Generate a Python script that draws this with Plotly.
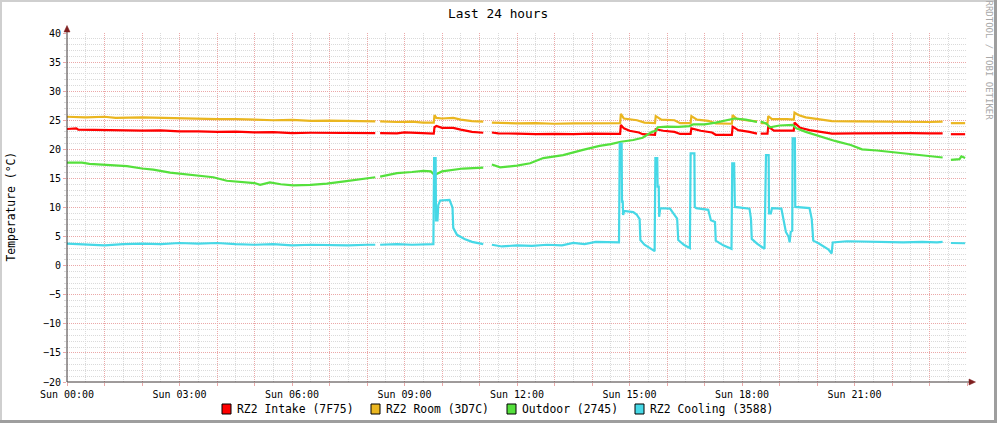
import plotly.graph_objects as go

# ---------------- data (hour of day, °C); None = gap in data ----------------
intake = [(0.0, 23.5), (0.25, 23.6), (0.3, 23.4), (0.9, 23.3), (1.5, 23.3), (2.0, 23.2), (2.5, 23.25),
          (3.0, 23.1), (3.5, 23.1), (4.0, 23.0), (4.5, 23.05), (5.0, 22.9), (5.5, 22.95), (6.0, 22.8),
          (6.5, 22.85), (7.0, 22.8), (7.5, 22.85), (8.0, 22.8), (8.22, 22.8), (8.28, None), (8.35, 22.8),
          (8.8, 22.75), (9.0, 22.9), (9.3, 22.8), (9.78, 22.7), (9.8, 23.8), (9.85, 24.0), (10.0, 23.7),
          (10.3, 23.7), (10.5, 23.4), (10.8, 23.0), (11.1, 22.85), (11.2, None), (11.33, 22.9), (11.5, 22.75),
          (12.0, 22.7), (12.5, 22.6), (13.0, 22.65), (13.5, 22.6), (14.0, 22.7), (14.5, 22.75), (14.75, 22.65),
          (14.77, 24.2), (14.85, 23.6), (15.0, 23.2), (15.25, 22.9), (15.35, 22.6), (15.68, 22.5), (15.7, 23.45),
          (15.9, 23.2), (16.2, 23.0), (16.35, 22.65), (16.63, 22.65), (16.65, 23.6), (16.9, 23.2), (17.2, 22.9),
          (17.3, 22.5), (17.73, 22.5), (17.75, 23.9), (17.9, 23.3), (18.2, 23.0), (18.4, 22.7), (18.45, None),
          (18.5, 22.7), (18.68, 22.7), (18.7, 23.9), (18.85, 23.2), (19.2, 23.2), (19.38, 23.2), (19.4, 24.6),
          (19.55, 23.7), (19.8, 23.3), (20.0, 23.1), (20.4, 22.7), (21.0, 22.75), (21.5, 22.8), (22.0, 22.75),
          (22.5, 22.8), (23.0, 22.75), (23.35, 22.75), (23.45, None), (23.57, 22.6), (23.95, 22.6)]

room = [(0.0, 25.6), (0.5, 25.5), (1.0, 25.6), (1.3, 25.4), (2.0, 25.5), (2.5, 25.4), (3.0, 25.3), (3.5, 25.3),
        (4.0, 25.2), (4.5, 25.2), (5.0, 25.1), (5.5, 25.0), (6.0, 25.05), (6.5, 24.9), (7.0, 24.95), (7.5, 24.9),
        (8.0, 24.85), (8.22, 24.8), (8.28, None), (8.35, 24.8), (8.8, 24.7), (9.2, 24.75), (9.5, 24.6),
        (9.78, 24.6), (9.8, 25.9), (9.85, 25.4), (10.0, 25.3), (10.3, 25.4), (10.5, 25.1), (10.8, 24.85),
        (11.1, 24.75), (11.2, None), (11.33, 24.6), (11.6, 24.55), (12.0, 24.45), (12.5, 24.5), (13.0, 24.4),
        (13.5, 24.45), (14.0, 24.5), (14.5, 24.5), (14.75, 24.5), (14.77, 26.1), (14.85, 25.3), (15.2, 25.0),
        (15.4, 24.6), (15.68, 24.5), (15.7, 25.7), (15.85, 25.1), (16.2, 25.0), (16.35, 24.5), (16.63, 24.5),
        (16.65, 25.7), (16.8, 25.1), (17.1, 24.9), (17.3, 24.45), (17.73, 24.4), (17.75, 25.9), (17.85, 25.3),
        (18.1, 25.0), (18.4, 24.8), (18.45, None), (18.5, 24.5), (18.68, 24.5), (18.7, 25.7), (18.8, 25.2),
        (19.2, 25.2), (19.38, 25.1), (19.4, 26.3), (19.5, 25.9), (19.7, 25.5), (20.0, 25.2), (20.4, 24.85),
        (21.0, 24.8), (21.5, 24.75), (22.0, 24.8), (22.5, 24.75), (23.0, 24.7), (23.35, 24.75), (23.45, None),
        (23.57, 24.5), (23.95, 24.5)]

outdoor = [(0.0, 17.7), (0.4, 17.7), (0.6, 17.5), (1.0, 17.35), (1.4, 17.3), (1.6, 17.1), (2.0, 16.7),
           (2.3, 16.5), (2.75, 16.0), (3.2, 15.7), (3.63, 15.3), (3.9, 15.2), (4.26, 14.6), (4.6, 14.4),
           (5.0, 14.2), (5.15, 13.9), (5.41, 14.3), (5.7, 14.0), (6.03, 13.8), (6.5, 13.9), (6.93, 14.1),
           (7.4, 14.5), (7.9, 14.9), (8.22, 15.2), (8.28, None), (8.35, 15.3), (8.8, 15.9), (9.2, 16.1),
           (9.5, 16.3), (9.7, 16.2), (9.8, 15.6), (10.0, 16.2), (10.56, 16.7), (11.1, 16.85), (11.2, None),
           (11.33, 17.4), (11.55, 16.9), (12.0, 17.2), (12.35, 17.6), (12.7, 18.5), (13.23, 19.0), (13.76, 19.9),
           (14.2, 20.6), (14.5, 20.9), (14.77, 21.3), (15.1, 21.6), (15.35, 22.0), (15.6, 23.0), (15.7, 23.2),
           (15.75, 23.8), (16.0, 23.9), (16.3, 23.85), (16.6, 24.0), (16.7, 24.3), (17.0, 24.3), (17.3, 24.6),
           (17.6, 25.0), (17.8, 25.3), (18.1, 25.1), (18.4, 24.7), (18.45, None), (18.5, 24.8), (18.65, 24.4),
           (18.75, 23.8), (19.0, 24.1), (19.35, 24.2), (19.45, 23.6), (19.7, 23.0), (20.0, 22.4), (20.5, 21.4),
           (20.9, 20.75), (21.2, 20.0), (21.6, 19.8), (22.0, 19.5), (22.5, 19.2), (23.0, 18.8), (23.35, 18.6),
           (23.45, None), (23.57, 18.2), (23.8, 18.3), (23.85, 18.8), (23.95, 18.5)]

cooling = [(0.0, 3.8), (0.5, 3.6), (1.0, 3.5), (1.5, 3.7), (2.0, 3.8), (2.5, 3.7), (3.0, 3.9), (3.5, 3.8),
           (4.0, 3.9), (4.5, 3.7), (5.0, 3.6), (5.5, 3.7), (6.0, 3.5), (6.5, 3.6), (7.0, 3.5), (7.5, 3.5),
           (8.0, 3.6), (8.22, 3.6), (8.28, None), (8.35, 3.6), (8.8, 3.7), (9.2, 3.6), (9.77, 3.7),
           (9.79, 18.5), (9.83, 18.5), (9.84, 7.8), (9.88, 7.8), (9.9, 10.4), (9.95, 11.2), (10.2, 11.3),
           (10.28, 10.0), (10.3, 6.5), (10.4, 5.3), (10.6, 4.6), (10.8, 4.1), (11.1, 3.7), (11.2, None),
           (11.33, 3.6), (11.6, 3.3), (12.0, 3.5), (12.4, 3.4), (12.8, 3.6), (13.2, 3.5), (13.5, 3.9),
           (13.8, 3.7), (14.1, 4.1), (14.5, 4.0), (14.72, 4.0), (14.74, 21.0), (14.79, 21.0), (14.8, 11.0),
           (14.82, 11.0), (14.83, 8.7), (14.86, 9.4), (15.1, 9.2), (15.19, 8.8), (15.27, 8.0), (15.29, 4.4),
           (15.4, 3.6), (15.55, 3.0), (15.67, 2.5), (15.69, 18.5), (15.74, 18.5), (15.75, 13.6), (15.78, 13.6),
           (15.79, 8.4), (15.82, 9.9), (16.08, 9.8), (16.2, 8.8), (16.27, 8.1), (16.3, 4.4), (16.45, 3.6),
           (16.61, 3.0), (16.63, 19.3), (16.73, 19.3), (16.74, 10.1), (16.78, 9.9), (17.1, 9.6), (17.17, 7.8),
           (17.28, 7.5), (17.3, 4.3), (17.5, 3.5), (17.72, 2.9), (17.74, 17.6), (17.79, 17.6), (17.81, 10.1),
           (18.2, 9.8), (18.24, 8.0), (18.26, 4.6), (18.4, 3.8), (18.6, 2.9), (18.64, 19.0), (18.71, 19.0),
           (18.72, 9.0), (18.77, 9.0), (18.8, 9.9), (19.05, 9.8), (19.12, 7.5), (19.17, 5.8), (19.24, 5.0),
           (19.27, 4.0), (19.3, 5.8), (19.34, 6.0), (19.35, 21.9), (19.41, 21.9), (19.42, 10.1), (19.8, 9.9),
           (19.86, 8.0), (19.9, 4.3), (20.05, 3.8), (20.2, 3.2), (20.3, 2.8), (20.39, 2.1), (20.42, 4.0),
           (20.8, 4.2), (21.3, 4.1), (21.8, 4.1), (22.3, 4.0), (22.8, 4.1), (23.2, 4.0), (23.35, 4.1),
           (23.45, None), (23.57, 3.9), (23.95, 3.85)]

series_names = ["RZ2 Intake (7F75)", "RZ2 Room (3D7C)", "Outdoor (2745)", "RZ2 Cooling (3588)"]
series_colors = ["#FF0000", "#EAB620", "#55E03C", "#46D8E6"]
series_data = [intake, room, outdoor, cooling]

x_tick_hours = list(range(0, 25))
x_tick_labels = {0: "Sun 00:00", 3: "Sun 03:00", 6: "Sun 06:00", 9: "Sun 09:00",
                 12: "Sun 12:00", 15: "Sun 15:00", 18: "Sun 18:00", 21: "Sun 21:00"}

# ---------------- geometry ----------------
W, H = 997, 423
L, R, T, B = 67, 30, 33, 41
PW, PH = W - L - R, H - T - B
FONT = "DejaVu Sans Mono"


def px(x):
    return (x - L) / PW


def py(y):
    return (H - B - y) / PH


fig = go.Figure()
for name, color, data in zip(series_names, series_colors, series_data):
    fig.add_trace(go.Scatter(
        x=[p[0] for p in data], y=[p[1] for p in data], mode="lines", name=name,
        line=dict(color=color, width=2.2), connectgaps=False, showlegend=False, hoverinfo="skip"))

MINOR_GRID = "#DADADA"
MAJOR_GRID = "#EBA8A8"
DASH = "1px,1px"

fig.update_xaxes(
    range=[0, 24], tickmode="array", tickvals=x_tick_hours,
    ticktext=[x_tick_labels.get(h, "") for h in x_tick_hours],
    showgrid=True, gridcolor=MAJOR_GRID, griddash=DASH, gridwidth=1,
    ticks="outside", ticklen=3, tickcolor=MAJOR_GRID,
    tickfont=dict(family=FONT, size=10, color="#000"),
    minor=dict(tickmode="array", tickvals=[h + 0.5 for h in range(24)], showgrid=True,
               gridcolor=MINOR_GRID, griddash=DASH, gridwidth=1, ticks=""),
    zeroline=False, showline=False, fixedrange=True, automargin=False)

fig.update_yaxes(
    range=[-20, 40], tickmode="linear", tick0=-20, dtick=5,
    showgrid=True, gridcolor=MAJOR_GRID, griddash=DASH, gridwidth=1,
    ticks="outside", ticklen=3, tickcolor=MAJOR_GRID,
    tickfont=dict(family=FONT, size=10, color="#000"),
    minor=dict(dtick=1, showgrid=True, gridcolor=MINOR_GRID, griddash=DASH, gridwidth=1,
               ticks="outside", ticklen=2, tickcolor=MINOR_GRID),
    zeroline=False, showline=False, fixedrange=True, automargin=False)

shapes = []
AXIS = "#3e3636"
ARROW = "#7F1F1F"
# axis lines (extend past plot to arrows)
shapes.append(dict(type="line", xref="paper", yref="paper", x0=px(67), x1=px(67), y0=py(382), y1=py(29),
                   line=dict(color=AXIS, width=1), layer="above"))
shapes.append(dict(type="line", xref="paper", yref="paper", x0=px(67), x1=px(971), y0=py(382), y1=py(382),
                   line=dict(color=AXIS, width=1), layer="above"))
# arrow heads
shapes.append(dict(type="path", xref="paper", yref="paper", layer="above",
                   path=f"M {px(67)},{py(25.5)} L {px(64)},{py(32)} L {px(70)},{py(32)} Z",
                   fillcolor=ARROW, line=dict(color=ARROW, width=0.5)))
shapes.append(dict(type="path", xref="paper", yref="paper", layer="above",
                   path=f"M {px(975.5)},{py(382)} L {px(969)},{py(379)} L {px(969)},{py(385)} Z",
                   fillcolor=ARROW, line=dict(color=ARROW, width=0.5)))
# outer frame shading
for (x0, y0, x1, y1, c) in [(0, 0, W, 2, "#CFCFCF"), (0, 0, 2, H, "#CFCFCF"),
                            (W - 3, 0, W, H, "#9E9E9E"), (0, H - 3, W, H, "#9E9E9E")]:
    shapes.append(dict(type="rect", xref="paper", yref="paper", x0=px(x0), x1=px(x1), y0=py(y0), y1=py(y1),
                       fillcolor=c, line=dict(width=0), layer="above"))

annotations = [
    dict(text="Last 24 hours", x=px(498), y=py(13.5), xref="paper", yref="paper", showarrow=False,
         xanchor="center", yanchor="middle", font=dict(family=FONT, size=12.8, color="#000")),
    dict(text="Temperature (°C)", x=px(10.5), y=py(207), xref="paper", yref="paper", showarrow=False,
         textangle=-90, xanchor="center", yanchor="middle", font=dict(family=FONT, size=11.4, color="#000")),
    dict(text="RRDTOOL / TOBI OETIKER", x=px(988.5), y=py(60), xref="paper", yref="paper", showarrow=False,
         textangle=90, xanchor="center", yanchor="middle", font=dict(family=FONT, size=9, color="#A8A8A8")),
]

legend_square_left = [222, 371, 507, 635]
legend_text_left = [235, 384, 520, 648]
for name, color, sx, tx in zip(series_names, series_colors, legend_square_left, legend_text_left):
    shapes.append(dict(type="rect", xref="paper", yref="paper", x0=px(sx), x1=px(sx + 9),
                       y0=py(404), y1=py(414), fillcolor=color, line=dict(color="#000", width=1), layer="above"))
    annotations.append(dict(text=name, x=px(tx), y=py(409), xref="paper", yref="paper", showarrow=False,
                            xanchor="left", yanchor="middle", font=dict(family=FONT, size=11.4, color="#000")))

fig.update_layout(
    width=W, height=H, margin=dict(l=L, r=R, t=T, b=B, pad=0, autoexpand=False),
    paper_bgcolor="#FFFFFF", plot_bgcolor="#FFFFFF",
    shapes=shapes, annotations=annotations, showlegend=False,
    font=dict(family=FONT, size=10, color="#000"))

fig.write_html(
    "out.html",
    config={"displayModeBar": False, "staticPlot": True},
    post_script="document.body.style.margin='0';document.body.style.padding='0';"
                "document.body.style.overflow='hidden';")
